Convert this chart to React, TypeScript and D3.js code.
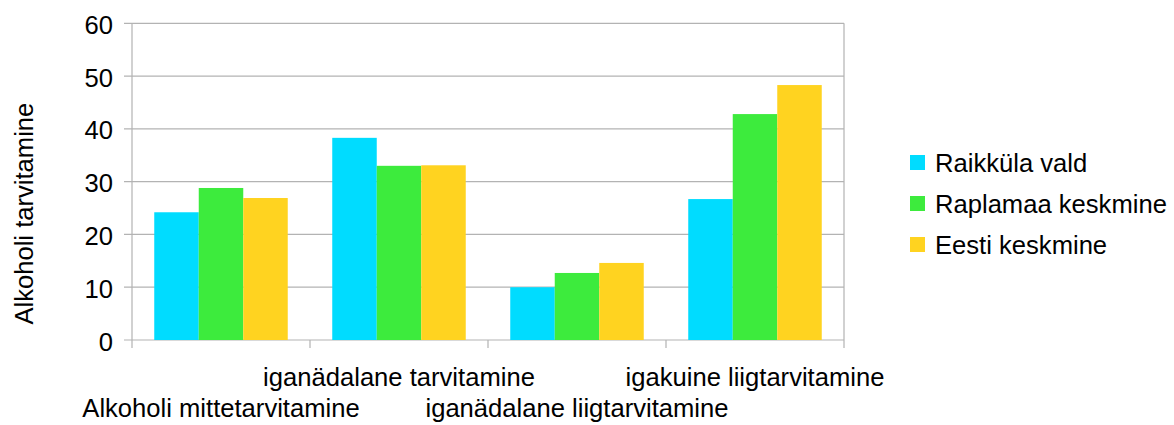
import React from "react";
import * as d3 from "d3";

const categories = [
  "Alkoholi mittetarvitamine",
  "iganädalane tarvitamine",
  "iganädalane liigtarvitamine",
  "igakuine liigtarvitamine",
];
const seriesNames = ["Raikküla vald", "Raplamaa keskmine", "Eesti keskmine"];
const raikkula = [24.2, 38.3, 10.0, 26.7];
const raplamaa = [28.8, 33.0, 12.7, 42.8];
const eesti = [26.9, 33.1, 14.6, 48.3];
const yTicks = [0, 10, 20, 30, 40, 50, 60];
const colors = ["#00dcff", "#3deb3d", "#ffd320"];
const yTitle = "Alkoholi tarvitamine";

export default function App() {
  const W = 1174, H = 425;
  const left = 132, right = 844, top = 23.3, bottom = 340;
  const font = "'Liberation Sans', Arial, sans-serif";
  const fs = 25.6;
  const x = d3.scaleBand<string>().domain(categories).range([left, right]).paddingInner(0.25).paddingOuter(0.125);
  const xOuter = d3.scaleBand<string>().domain(categories).range([left, right]);
  const xs = d3.scaleBand<number>().domain([0, 1, 2]).range([0, x.bandwidth()]);
  const y = d3.scaleLinear().domain([0, 60]).range([bottom, top]);
  const data = [raikkula, raplamaa, eesti];
  return (
    <svg width={W} height={H} style={{ position: "absolute", left: 0, top: 0, background: "#fff" }}>
      {yTicks.map((t) => (
        <g key={t}>
          <line x1={left - 8} x2={right} y1={y(t)} y2={y(t)} stroke="#b3b3b3" strokeWidth={1.2} />
          <text x={113} y={y(t) + 10.5} textAnchor="end" fontFamily={font} fontSize={fs} fill="#000">
            {t}
          </text>
        </g>
      ))}
      <line x1={left} x2={left} y1={top} y2={bottom + 8} stroke="#b3b3b3" strokeWidth={1.2} />
      <line x1={right} x2={right} y1={top} y2={bottom + 8} stroke="#b3b3b3" strokeWidth={1.2} />
      {categories.map((c, i) =>
        i > 0 ? (
          <line key={c} x1={xOuter(c)!} x2={xOuter(c)!} y1={bottom} y2={bottom + 8} stroke="#b3b3b3" strokeWidth={1.2} />
        ) : null
      )}
      {data.map((vals, si) =>
        vals.map((v, ci) => (
          <rect
            key={si + "-" + ci}
            x={x(categories[ci])! + xs(si)!}
            y={y(v)}
            width={xs.bandwidth()}
            height={bottom - y(v)}
            fill={colors[si]}
          />
        ))
      )}
      {categories.map((c, i) => (
        <text
          key={c}
          x={xOuter(c)! + xOuter.bandwidth() / 2}
          y={i % 2 === 0 ? 417 : 386}
          textAnchor="middle"
          fontFamily={font}
          fontSize={fs}
          fill="#000"
        >
          {c}
        </text>
      ))}
      <text
        transform={`translate(33,${(top + bottom) / 2 + 32}) rotate(-90)`}
        textAnchor="middle"
        fontFamily={font}
        fontSize={fs}
        fill="#000"
      >
        {yTitle}
      </text>
      {seriesNames.map((s, i) => (
        <g key={s} transform={`translate(910,${172 + i * 41})`}>
          <rect x={0} y={-17} width={15} height={15} fill={colors[i]} />
          <text x={25} y={0} fontFamily={font} fontSize={fs} fill="#000">
            {s}
          </text>
        </g>
      ))}
    </svg>
  );
}
